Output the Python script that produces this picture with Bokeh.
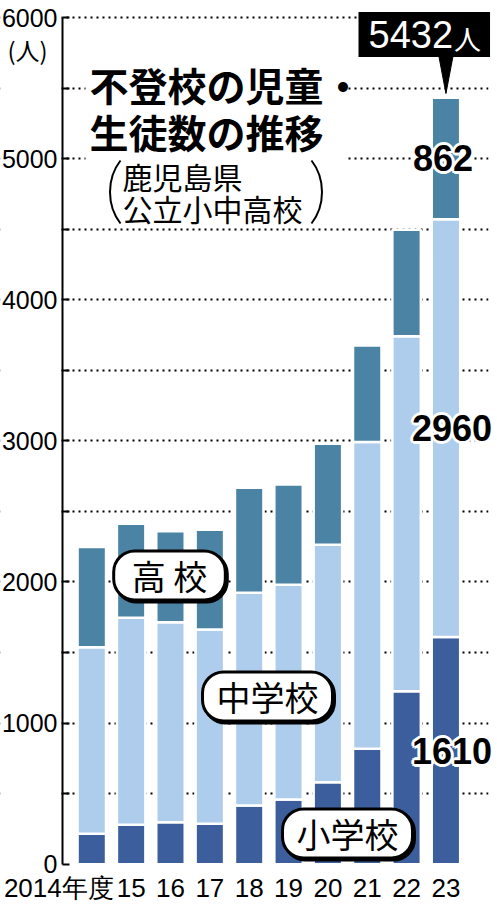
from bokeh.plotting import figure
from bokeh.models import ColumnDataSource, FixedTicker, Label, LabelSet, Range1d
from bokeh.core.properties import value
from bokeh.embed import file_html
from bokeh.resources import INLINE

# ---------------- data ----------------
years = ["2014年度", "15", "16", "17", "18", "19", "20", "21", "22", "23"]
elementary = [215, 279, 298, 286, 416, 458, 581, 818, 1226, 1610]
junior_high = [1323, 1467, 1417, 1377, 1507, 1522, 1683, 2173, 2516, 2960]
high_school = [709, 666, 645, 707, 745, 711, 715, 685, 754, 862]
y_tick_values = [0, 1000, 2000, 3000, 4000, 5000, 6000]
y_tick_labels = ["0", "1000", "2000", "3000", "4000", "5000", "6000"]
unit_label = "(人)"
total_unit = "人"
title_lines = ["不登校の児童・", "生徒数の推移"]
subtitle_lines = ["鹿児島県", "公立小中高校"]
category_labels = ["高 校", "中学校", "小学校"]

# ---------------- layout / styles ----------------
C_ELEM = "#3c5e9c"
C_JH = "#aecdec"
C_HS = "#4a83a3"
NUM_FONT = "Liberation Sans"
CJK_FONT = "Noto Sans CJK JP"

W, H = 497, 905
BAR0_PX, STEP_PX = 91.3, 39.35          # pixel centre of first bar, bar pitch
ZERO_PX, PX_PER_UNIT = 863.7, 846.7 / 6000
X0, X1 = (0 - BAR0_PX) / STEP_PX, (W - BAR0_PX) / STEP_PX
Y0, Y1 = (ZERO_PX - H) / PX_PER_UNIT, ZERO_PX / PX_PER_UNIT
SEP_W = 2.5                               # white separator between stacked segments


def rx(px):  # picture x pixel -> data x
    return (px - BAR0_PX) / STEP_PX


def ry(py):  # picture y pixel -> data y
    return (ZERO_PX - py) / PX_PER_UNIT


p = figure(width=W, height=H, x_range=Range1d(X0, X1), y_range=Range1d(Y0, Y1),
           output_backend="svg", toolbar_location=None, x_axis_location=None,
           min_border=0, min_border_left=0, min_border_right=0, min_border_top=0,
           min_border_bottom=0, outline_line_color=None,
           background_fill_color="white", border_fill_color="white")

xs = list(range(len(years)))
src = ColumnDataSource(dict(x=xs, elementary=elementary, junior_high=junior_high,
                            high_school=high_school))

# white areas hiding the dotted grid outside the plotting area and behind the title
p.quad(left=[X0, rx(488), rx(85)], right=[rx(61), X1, rx(345)],
       top=[Y1, Y1, ry(40)], bottom=[Y0, Y0, ry(226)],
       fill_color="white", line_color=None)

p.vbar_stack(["elementary", "junior_high", "high_school"], x="x",
             width=0.66 + SEP_W / STEP_PX,
             color=[C_ELEM, C_JH, C_HS], line_color="white", line_width=SEP_W, source=src)

# y axis / grid
p.xgrid.visible = False
ya = p.yaxis[0]
ya.fixed_location = rx(62)
ya.bounds = (0, 6000)
all_ticks = list(range(0, 6001, 500))
ya.ticker = FixedTicker(ticks=all_ticks)
lab = dict(zip(y_tick_values, y_tick_labels))
ya.major_label_overrides = {t: lab.get(t, "") for t in all_ticks}
ya.major_label_text_font = NUM_FONT
ya.major_label_text_font_size = "25px"
ya.major_label_text_color = "black"
ya.major_label_standoff = 5
ya.axis_line_color = "black"
ya.axis_line_width = 2
ya.major_tick_in = 7
ya.major_tick_out = 0
ya.major_tick_line_width = 2
ya.major_tick_line_color = "black"
ya.minor_tick_line_color = None
p.ygrid.ticker = FixedTicker(ticks=list(range(500, 6001, 500)))
p.ygrid.grid_line_color = "black"
p.ygrid.grid_line_dash = "2 4"
p.ygrid.grid_line_width = 2

# parentheses around the subtitle
p.bezier(x0=[rx(120), rx(311)], y0=[ry(160), ry(160)],
         x1=[rx(120), rx(311)], y1=[ry(223), ry(223)],
         cx0=[rx(106), rx(325)], cy0=[ry(178), ry(178)],
         cx1=[rx(106), rx(325)], cy1=[ry(205), ry(205)],
         line_color="black", line_width=2)

# year labels
yl_src = ColumnDataSource(dict(x=xs, y=[ry(887)] * len(xs), text=years,
                               xo=[-33] + [0] * (len(xs) - 1)))
p.add_layout(LabelSet(x="x", y="y", text="text", x_offset="xo", source=yl_src,
                      text_font=value(NUM_FONT), text_font_size=value("26px"),
                      text_align="center", text_baseline="middle", text_color="black"))

# unit
p.add_layout(Label(x=rx(27), y=ry(49), text=unit_label, text_font=CJK_FONT,
                   text_font_size="24px", text_color="black",
                   text_align="center", text_baseline="middle"))

# title
for t, yy in zip(title_lines, [83, 130]):
    p.add_layout(Label(x=rx(89), y=ry(yy), text=t, text_font=CJK_FONT, text_font_style="bold",
                       text_font_size="39px", text_color="black",
                       text_align="left", text_baseline="middle"))
for t, yy in zip(subtitle_lines, [175, 207]):
    p.add_layout(Label(x=rx(122), y=ry(yy), text=t, text_font=CJK_FONT,
                       text_font_size="30px", text_color="black",
                       text_align="left", text_baseline="middle"))

# total box
last = len(years) - 1
total = elementary[last] + junior_high[last] + high_school[last]
p.patch(x=[last - 7 / STEP_PX, last + 7 / STEP_PX, last], y=[ry(56), ry(56), ry(93)],
        color="black")
p.add_layout(Label(x=rx(358), y=ry(34), text=str(total), text_font=NUM_FONT,
                   text_font_size="38px", text_color="white", text_align="left",
                   text_baseline="middle", background_fill_color="black",
                   padding=dict(left=10, right=37, top=9, bottom=9)))
p.add_layout(Label(x=rx(467), y=ry(38), text=total_unit, text_font=CJK_FONT,
                   text_font_size="27px", text_color="white", text_align="center",
                   text_baseline="middle"))

# value labels for the last year (with white halo)
vals = [elementary[last], junior_high[last], high_school[last]]
vy = [elementary[last] / 2, elementary[last] + junior_high[last] / 2,
      elementary[last] + junior_high[last] + high_school[last] / 2]
vxo = [6, 6, -3]
halo = dict(x=[], y=[], text=[], xo=[], yo=[])
for dx, dy in [(-3, 0), (3, 0), (0, -3), (0, 3), (-2, -2), (2, 2), (-2, 2), (2, -2)]:
    for v, yv, xo in zip(vals, vy, vxo):
        halo["x"].append(last)
        halo["y"].append(yv)
        halo["text"].append(str(v))
        halo["xo"].append(xo + dx)
        halo["yo"].append(dy)
p.add_layout(LabelSet(x="x", y="y", text="text", x_offset="xo", y_offset="yo",
                      source=ColumnDataSource(halo), text_font=value(NUM_FONT),
                      text_font_style="bold", text_font_size=value("36px"),
                      text_color="white", text_align="center", text_baseline="middle"))
vsrc = ColumnDataSource(dict(x=[last] * 3, y=vy, text=[str(v) for v in vals], xo=vxo))
p.add_layout(LabelSet(x="x", y="y", text="text", x_offset="xo", source=vsrc,
                      text_font=value(NUM_FONT), text_font_style="bold",
                      text_font_size=value("36px"), text_color="black",
                      text_align="center", text_baseline="middle"))

# pill labels
pills = [(category_labels[0], 169, 575, 18), (category_labels[1], 267, 696, 14),
         (category_labels[2], 347, 833, 14)]
for t, cx, cy, ph in pills:
    for shadow in (True, False):
        p.add_layout(Label(x=rx(cx), y=ry(cy), x_offset=2 if shadow else 0,
                           y_offset=-2 if shadow else 0, text=t, text_font=CJK_FONT,
                           text_font_size="34px",
                           text_color="black", text_align="center", text_baseline="middle",
                           background_fill_color="black" if shadow else "white",
                           border_line_color="black", border_line_width=3,
                           border_radius=21, padding=dict(left=ph, right=ph, top=0, bottom=0)))

open("out.html", "w").write(file_html(p, INLINE))
